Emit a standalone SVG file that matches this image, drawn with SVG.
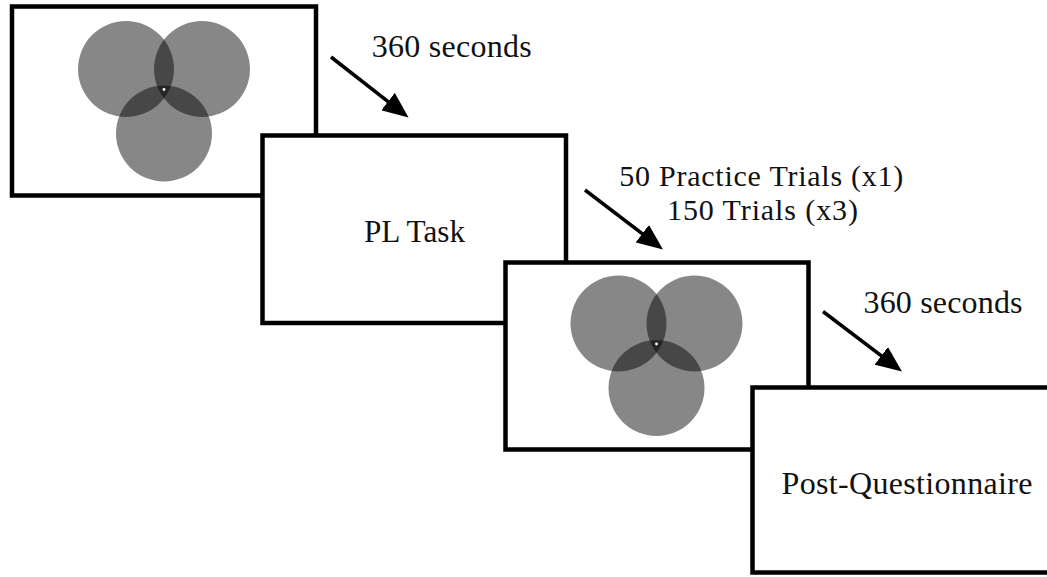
<svg xmlns="http://www.w3.org/2000/svg" width="1047" height="577" viewBox="0 0 1047 577">
  <defs>
    <style>
      .frame { fill: #fff; stroke: #000; stroke-width: 4.5; }
      .disc { fill: #000; fill-opacity: 0.47; }
      .pin { fill: #fff; }
      .lbl { font-family: "Liberation Serif", "Times New Roman", serif; font-size: 32px; fill: #111; text-anchor: middle; }
      .lbl.pair { font-size: 30px; }
      .link { stroke: #000; stroke-width: 3.5; fill: none; marker-end: url(#head); }
    </style>
    <marker id="head" markerUnits="userSpaceOnUse" markerWidth="28" markerHeight="22" viewBox="0 0 28 22" refX="18" refY="11" orient="auto">
      <path d="M0,0 L26,11 L0,22 z" fill="#000"/>
    </marker>
    <g id="venn">
      <circle class="disc" cx="0" cy="0" r="48"/>
      <circle class="disc" cx="76" cy="0" r="48"/>
      <circle class="disc" cx="38" cy="64.5" r="48"/>
      <circle class="pin" cx="38" cy="20.5" r="1.4"/>
    </g>
  </defs>

  <!-- fixation display -->
  <g id="screen-fixation-1">
    <rect class="frame" x="12" y="6.5" width="304" height="189"/>
    <use href="#venn" x="126" y="69"/>
  </g>

  <!-- task screen -->
  <g id="screen-pl-task">
    <rect class="frame" x="262.5" y="135.5" width="303.5" height="187.5"/>
    <text class="lbl" x="414.5" y="241.5" textLength="101" lengthAdjust="spacingAndGlyphs">PL Task</text>
  </g>

  <!-- second fixation display -->
  <g id="screen-fixation-2">
    <rect class="frame" x="505.5" y="262.5" width="303" height="187"/>
    <use href="#venn" x="618.5" y="323.5"/>
  </g>

  <!-- questionnaire screen -->
  <g id="screen-questionnaire">
    <rect class="frame" x="752.5" y="387.5" width="320" height="185"/>
    <text class="lbl" x="907" y="493.5" textLength="251" lengthAdjust="spacing">Post-Questionnaire</text>
  </g>

  <!-- transitions -->
  <g id="connectors">
    <line class="link" x1="331" y1="57" x2="402.2" y2="112.6"/>
    <line class="link" x1="585" y1="190" x2="656.6" y2="244.6"/>
    <line class="link" x1="823" y1="311.5" x2="895.6" y2="366.7"/>
    <text class="lbl" x="451.7" y="56.5" textLength="160" lengthAdjust="spacing">360 seconds</text>
    <text class="lbl pair" x="761.3" y="185.5" textLength="284" lengthAdjust="spacing">50 Practice Trials (x1)</text>
    <text class="lbl pair" x="762.5" y="219.5" textLength="191" lengthAdjust="spacing">150 Trials (x3)</text>
    <text class="lbl" x="943" y="312.5" textLength="159" lengthAdjust="spacing">360 seconds</text>
  </g>
</svg>
